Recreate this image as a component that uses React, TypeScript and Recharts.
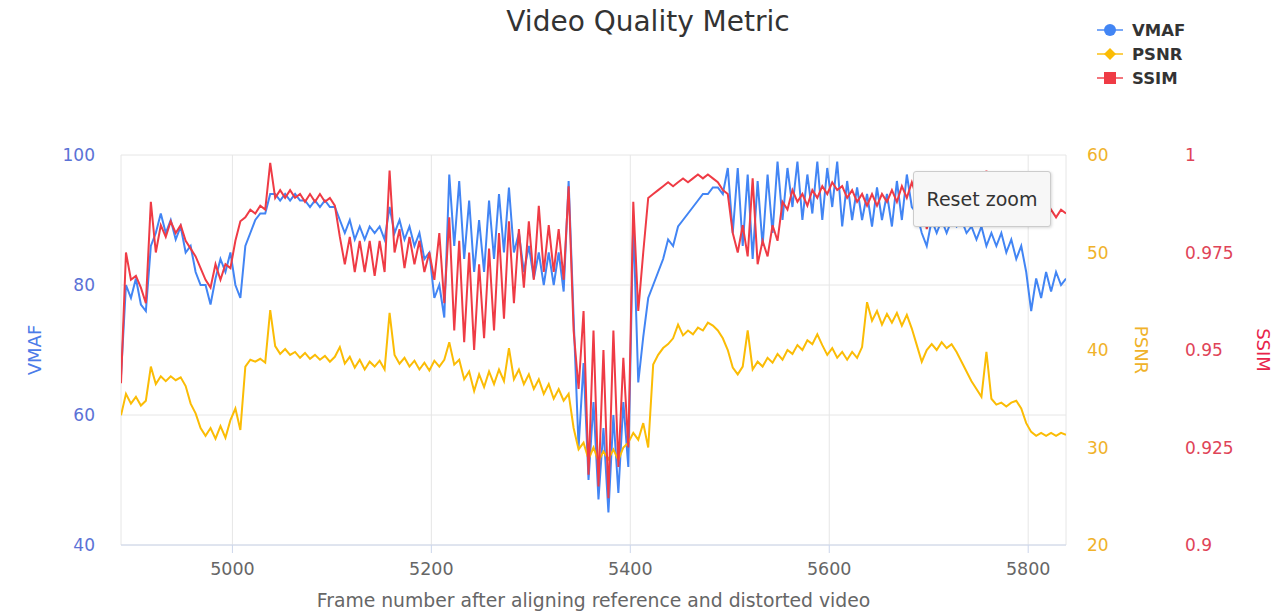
import React from "react";
import {
  ComposedChart, Line, XAxis, YAxis, CartesianGrid,
} from "recharts";

// sampled every 5th frame, starting at frame 4888
const FIRST_FRAME = 4888;
const FRAME_STEP = 5;

const vmaf = [
  66, 80, 78, 81, 77, 76, 86, 88, 91, 88,
  90, 87, 89, 85, 86, 82, 80, 80, 77, 81,
  84, 82, 85, 80, 78, 86, 88, 90, 91, 91,
  94, 94, 93, 94, 93, 94, 93, 93, 92, 93,
  92, 93, 92, 92, 90, 88, 90, 87, 89, 87,
  89, 88, 89, 87, 92, 88, 90, 87, 89, 86,
  88, 84, 85, 78, 80, 75, 97, 86, 96, 84,
  93, 82, 90, 82, 93, 84, 94, 85, 95, 85,
  88, 82, 86, 81, 85, 80, 85, 80, 85, 79,
  96, 75, 55, 68, 50, 62, 47, 58, 45, 60,
  48, 62, 52, 90, 65, 72, 78, 80, 82, 84,
  87, 86, 89, 90, 91, 92, 93, 94, 94, 95,
  95, 94, 98, 88, 98, 86, 97, 84, 96, 86,
  97, 88, 99, 90, 98, 92, 99, 90, 97, 91,
  99, 90, 98, 92, 99, 89, 96, 90, 95, 90,
  94, 89, 95, 90, 94, 89, 96, 90, 97, 92,
  91, 88, 86, 90, 88, 90, 88, 90, 89, 90,
  88, 89, 87, 89, 86, 88, 86, 88, 85, 87,
  84, 86, 82, 76, 81, 78, 82, 79, 82, 80, 81,
];

const psnr = [
  33.3, 35.5, 34.5, 35.2, 34.3, 34.8, 38.3, 36.5, 37.3, 36.8,
  37.3, 36.9, 37.2, 36.3, 34.5, 33.5, 32.0, 31.2, 32.0, 30.9,
  32.2, 31.0, 32.8, 34.0, 31.8, 38.3, 39.0, 38.8, 39.1, 38.7,
  44.1, 40.4, 39.6, 40.1, 39.5, 39.8, 39.2, 39.7, 39.1, 39.5,
  39.0, 39.4, 38.8, 39.3, 40.3, 38.6, 39.3, 38.2, 39.0, 38.0,
  38.8, 38.3, 38.9, 38.0, 43.8, 39.5, 38.6, 39.2, 38.3, 38.9,
  38.0, 38.7, 37.9, 38.9, 38.3, 39.0, 40.8, 38.5, 39.0, 37.0,
  37.8, 35.8, 37.5, 36.2, 37.8, 36.5, 38.0, 36.8, 40.2, 37.0,
  38.0, 36.5, 37.5, 36.0, 37.0, 35.5, 36.5, 35.0, 36.0, 34.8,
  35.5, 32.0, 29.8, 30.5, 28.8, 30.0, 28.6, 29.6, 28.8, 29.8,
  28.7, 30.0, 30.5, 31.5, 30.8, 32.5, 30.0, 38.5, 39.5, 40.2,
  40.6, 41.2, 42.6, 41.5, 42.0, 41.6, 42.3, 42.0, 42.8, 42.5,
  42.0, 41.2, 40.0, 38.2, 37.5, 38.3, 42.0, 38.0, 38.8, 38.3,
  39.2, 38.7, 39.6, 39.0, 40.0, 39.6, 40.5, 40.0, 41.0, 40.6,
  41.6, 40.5, 39.5, 40.2, 39.2, 39.8, 39.0, 39.8, 39.2, 40.3,
  44.9, 43.0, 44.0, 42.6, 43.7, 42.8, 43.8, 42.5, 43.6, 42.2,
  40.5, 38.8, 40.0, 40.6, 40.0, 40.8, 40.2, 40.6, 39.8, 38.8,
  37.8, 36.8, 36.0, 35.2, 39.8, 35.0, 34.4, 34.6, 34.2, 34.6,
  34.8, 34.0, 32.5, 31.6, 31.2, 31.5, 31.2, 31.5, 31.2, 31.5, 31.3,
];

const ssim = [
  0.9415, 0.975, 0.968, 0.969, 0.966, 0.962, 0.988, 0.975, 0.982, 0.979,
  0.983, 0.98, 0.982, 0.978, 0.976, 0.974, 0.971, 0.968, 0.966, 0.972,
  0.968, 0.972, 0.971, 0.978, 0.983, 0.984, 0.986, 0.985, 0.987, 0.986,
  0.998, 0.989, 0.991, 0.989, 0.991, 0.989, 0.99, 0.988, 0.99, 0.988,
  0.99, 0.988, 0.989, 0.987, 0.979, 0.972, 0.979, 0.97, 0.978, 0.97,
  0.978, 0.969, 0.978, 0.97, 0.996, 0.975, 0.981, 0.971, 0.979, 0.972,
  0.978, 0.97, 0.975, 0.968, 0.98, 0.962, 0.984, 0.955, 0.978, 0.952,
  0.975, 0.95, 0.972, 0.953, 0.976, 0.955, 0.98, 0.958, 0.983, 0.962,
  0.981, 0.966, 0.983, 0.968, 0.987, 0.97, 0.982, 0.97, 0.981, 0.968,
  0.992, 0.955, 0.94, 0.96, 0.918, 0.955, 0.915, 0.95, 0.912, 0.955,
  0.92, 0.948, 0.925, 0.988, 0.96, 0.975, 0.989, 0.99, 0.991, 0.992,
  0.993, 0.992, 0.993, 0.994, 0.993, 0.994, 0.995, 0.994, 0.995, 0.994,
  0.993, 0.991, 0.99, 0.98, 0.975, 0.982, 0.974, 0.994, 0.972, 0.978,
  0.974, 0.982, 0.978, 0.988, 0.986, 0.991, 0.988, 0.99, 0.987, 0.991,
  0.989, 0.992, 0.99, 0.993, 0.991, 0.992, 0.989, 0.991, 0.988, 0.99,
  0.987, 0.99, 0.987, 0.99, 0.988, 0.991, 0.988, 0.992, 0.989, 0.993,
  0.989, 0.991, 0.981, 0.986, 0.984, 0.987, 0.985, 0.987, 0.985, 0.987,
  0.985, 0.987, 0.985, 0.987, 0.996, 0.986, 0.985, 0.986, 0.984, 0.986,
  0.984, 0.985, 0.983, 0.985, 0.984, 0.985, 0.984, 0.986, 0.984, 0.986, 0.985,
];

const xTicks = [5000, 5200, 5400, 5600, 5800];
const vmafTicks = [40, 60, 80, 100];
const psnrTicks = [20, 30, 40, 50, 60];
const ssimTicks = [0.9, 0.925, 0.95, 0.975, 1];

const BLUE = "#4285f4";
const ORANGE = "#fbbc05";
const RED = "#ef3b45";
const FONT = "'DejaVu Sans', Verdana, sans-serif";

const data = vmaf.map((v, i) => ({
  frame: FIRST_FRAME + i * FRAME_STEP,
  vmaf: v,
  psnr: psnr[i],
  ssim: ssim[i],
}));

const legendItems = [
  { name: "VMAF", color: BLUE, shape: "circle" },
  { name: "PSNR", color: ORANGE, shape: "diamond" },
  { name: "SSIM", color: RED, shape: "square" },
];

const LegendMarker = ({ color, shape }: { color: string; shape: string }) => (
  <svg width={26} height={16} style={{ display: "block" }}>
    <line x1={0} y1={8} x2={26} y2={8} stroke={color} strokeWidth={2} opacity={0.7} />
    {shape === "circle" && <circle cx={13} cy={8} r={6} fill={color} />}
    {shape === "diamond" && <path d="M13 2 L19 8 L13 14 L7 8 Z" fill={color} />}
    {shape === "square" && <rect x={7} y={2} width={12} height={12} fill={color} />}
  </svg>
);

export default function App() {
  return (
    <div style={{
      position: "absolute", left: 0, top: 0, width: 1284, height: 613,
      background: "#fff", fontFamily: FONT, overflow: "hidden",
    }}>
      <div style={{
        position: "absolute", left: 648, top: 6, transform: "translateX(-50%)",
        fontSize: 28, lineHeight: "32px", color: "#333", whiteSpace: "nowrap",
      }}>
        Video Quality Metric
      </div>

      <div style={{ position: "absolute", left: 1097, top: 18 }}>
        {legendItems.map(it => (
          <div key={it.name} style={{ display: "flex", alignItems: "center", height: 24 }}>
            <LegendMarker color={it.color} shape={it.shape} />
            <span style={{ marginLeft: 9, fontSize: 16.5, fontWeight: "bold", color: "#333" }}>
              {it.name}
            </span>
          </div>
        ))}
      </div>

      <ComposedChart width={1284} height={613} data={data}
        margin={{ top: 155, right: 0, left: 0, bottom: 0 }}>
        <CartesianGrid stroke="#e6e6e6" yAxisId="vmaf" />
        <XAxis dataKey="frame" type="number" domain={[4888, 5838]} ticks={xTicks}
          allowDataOverflow height={68} tickSize={8} tickMargin={10}
          tick={{ fill: "#666", fontSize: 17.5 }}
          axisLine={{ stroke: "#ccd6eb" }} tickLine={{ stroke: "#ccd6eb" }}
          label={{ value: "Frame number after aligning reference and distorted video",
            position: "insideBottom", offset: 6, fill: "#666", fontSize: 18.8 }} />
        <YAxis yAxisId="vmaf" orientation="left" domain={[40, 100]} ticks={vmafTicks}
          width={121} axisLine={false} tickLine={false} tickMargin={20}
          tick={{ fill: "#5b72d6", fontSize: 17 }}
          label={{ value: "VMAF", angle: -90, position: "insideLeft", offset: 35,
            fill: "#4b7be8", fontSize: 18, style: { textAnchor: "middle" } }} />
        <YAxis yAxisId="psnr" orientation="right" domain={[20, 60]} ticks={psnrTicks}
          width={100} axisLine={false} tickLine={false} tickMargin={15}
          tick={{ fill: "#f0b22a", fontSize: 17 }}
          label={{ value: "PSNR", angle: 90, position: "insideRight", offset: 25,
            fill: "#f0b22a", fontSize: 18, style: { textAnchor: "middle" } }} />
        <YAxis yAxisId="ssim" orientation="right" domain={[0.9, 1]} ticks={ssimTicks}
          width={118} axisLine={false} tickLine={false} tickMargin={13}
          tick={{ fill: "#df4458", fontSize: 17 }}
          label={{ value: "SSIM", angle: 90, position: "insideRight", offset: 21,
            fill: "#e8234a", fontSize: 18, style: { textAnchor: "middle" } }} />
        <Line yAxisId="vmaf" dataKey="vmaf" type="linear" stroke={BLUE} strokeWidth={2}
          dot={false} isAnimationActive={false} />
        <Line yAxisId="psnr" dataKey="psnr" type="linear" stroke={ORANGE} strokeWidth={2}
          dot={false} isAnimationActive={false} />
        <Line yAxisId="ssim" dataKey="ssim" type="linear" stroke={RED} strokeWidth={2}
          dot={false} isAnimationActive={false} />
      </ComposedChart>

      <div style={{
        position: "absolute", left: 913, top: 171, width: 138, height: 56,
        boxSizing: "border-box", background: "#f7f7f7", border: "1px solid #cccccc",
        borderRadius: 3, boxShadow: "1px 1px 3px rgba(0,0,0,0.15)",
        display: "flex", alignItems: "center", justifyContent: "center",
        fontSize: 19, color: "#333",
      }}>
        Reset zoom
      </div>
    </div>
  );
}
